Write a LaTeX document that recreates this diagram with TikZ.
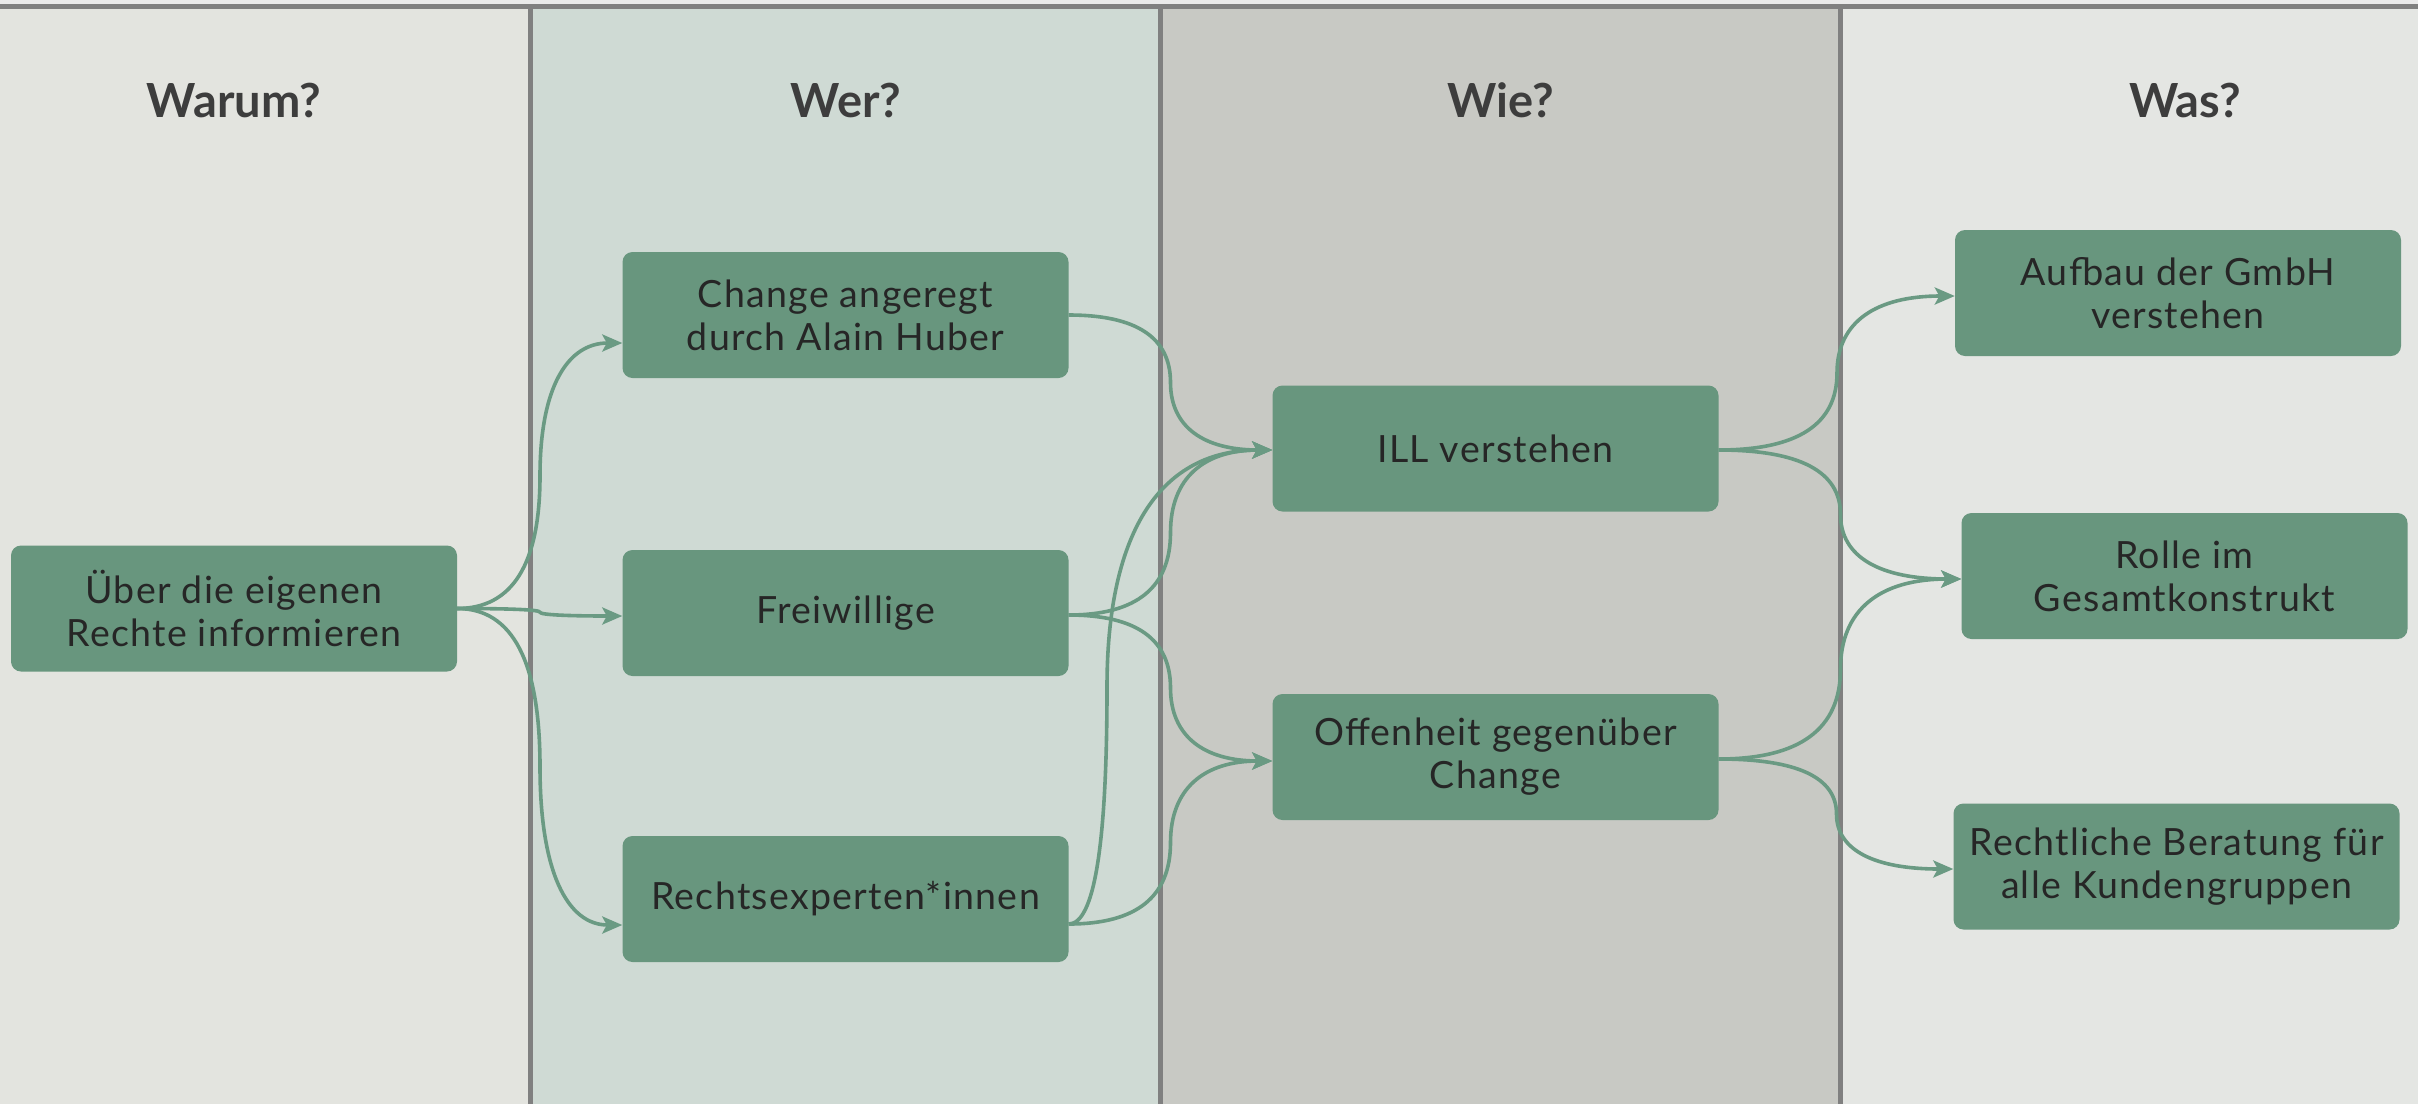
\documentclass[tikz,border=0pt]{standalone}
\usepackage{fontspec}
\setmainfont{Lato}
\newfontfamily\boxfont[LetterSpace=3.5]{Lato}
\usetikzlibrary{calc,arrows.meta}
\definecolor{laneA}{HTML}{E3E4DF}
\definecolor{laneB}{HTML}{CFDAD4}
\definecolor{laneC}{HTML}{C8C9C4}
\definecolor{laneD}{HTML}{E4E6E3}
\definecolor{topstrip}{HTML}{EAEAEA}
\definecolor{divgray}{HTML}{808080}
\definecolor{boxgreen}{HTML}{68967E}
\definecolor{edgegreen}{HTML}{6A9A83}
\definecolor{boxtext}{HTML}{262626}
\definecolor{hdrtext}{HTML}{3D3D3D}
\newcommand\curvedge[3]{%
  \draw[edge] let \p1=(#1), \p2=(#2), \n1={#3pt}, \n2={(\y1+\y2)/2} in
    (\p1) .. controls ({\x1+2/3*(\n1-\x1)},\y1) and (\n1,{\n2+2/3*(\y1-\n2)}) .. (\n1,\n2)
          .. controls (\n1,{\n2+2/3*(\y2-\n2)}) and ({\x2+2/3*(\n1-\x2)},\y2) .. (\p2);}
\begin{document}
\begin{tikzpicture}[x=1pt,y=-1pt,
  box/.style={rounded corners=10pt, fill=boxgreen, draw=none, minimum width=446pt,
    minimum height=126pt, align=center, text=boxtext, inner sep=0pt,
    font=\boxfont\fontsize{37.5}{43}\selectfont},
  hdr/.style={anchor=base, text=hdrtext, font=\fontsize{47}{56}\selectfont\bfseries},
  edge/.style={draw=edgegreen, line width=3.6pt, line join=round,
    -{Stealth[length=20pt,width=17pt,inset=4.5pt]}}]
\useasboundingbox (0,0) rectangle (2418,1104);
% lanes
\fill[topstrip] (0,0) rectangle (2418,9);
\fill[laneA] (0,9) rectangle (530.5,1104);
\fill[laneB] (530.5,9) rectangle (1160.8,1104);
\fill[laneC] (1160.8,9) rectangle (1840.6,1104);
\fill[laneD] (1840.6,9) rectangle (2418,1104);
\draw[divgray, line width=5.3pt] (0,6.6) -- (2418,6.6);
\draw[divgray, line width=5pt] (530.5,4) -- (530.5,1104);
\draw[divgray, line width=5pt] (1160.8,4) -- (1160.8,1104);
\draw[divgray, line width=5pt] (1840.6,4) -- (1840.6,1104);
% headers
\node[hdr] (h1) at (234,117) {Warum?};
\node[hdr] (h2) at (846,117) {Wer?};
\node[hdr] (h3) at (1501,117) {Wie?};
\node[hdr] (h4) at (2185,117) {Was?};
% nodes
\node[box] (A) at (234,608.5) {Über die eigenen\\Rechte informieren};
\node[box] (B) at (845.5,315) {Change angeregt\\durch Alain Huber};
\node[box] (C) at (845.5,613) {Freiwillige};
\node[box] (D) at (845.5,899) {Rechtsexperten*innen};
\node[box] (E) at (1495.5,448.5) {ILL verstehen};
\node[box] (F) at (1495.5,757) {Offenheit gegenüber\\Change};
\node[box] (G) at (2178,293) {Aufbau der GmbH\\verstehen};
\node[box] (H) at (2184.5,576) {Rolle im\\Gesamtkonstrukt};
\node[box] (I) at (2176.5,866.5) {Rechtliche Beratung für\\alle Kundengruppen};
% anchor points
\coordinate (aB) at ($(B.west)+(0,28)$);
\coordinate (aC) at ($(C.west)+(0,3)$);
\coordinate (aD) at ($(D.west)+(0,26)$);
\coordinate (oC) at ($(C.east)+(0,2)$);
\coordinate (oD) at ($(D.east)+(0,25)$);
\coordinate (iE) at ($(E.west)+(0,1.5)$);
\coordinate (iF) at ($(F.west)+(0,4)$);
\coordinate (oE) at ($(E.east)+(0,1.5)$);
\coordinate (oF) at ($(F.east)+(0,2)$);
\coordinate (iG) at ($(G.west)+(0,3)$);
\coordinate (iH) at ($(H.west)+(0,3)$);
\coordinate (iI) at ($(I.west)+(0,2.5)$);
% edges
\curvedge{A.east}{aB}{540}
\curvedge{A.east}{aC}{540}
\curvedge{A.east}{aD}{540}
\curvedge{B.east}{iE}{1170.5}
\curvedge{oC}{iE}{1170.5}
\curvedge{oC}{iF}{1170.5}
\curvedge{oD}{iE}{1107}
\curvedge{oD}{iF}{1170.5}
\curvedge{oE}{iG}{1837}
\curvedge{oE}{iH}{1840.5}
\curvedge{oF}{iH}{1840.5}
\curvedge{oF}{iI}{1836.5}
\end{tikzpicture}
\end{document}
